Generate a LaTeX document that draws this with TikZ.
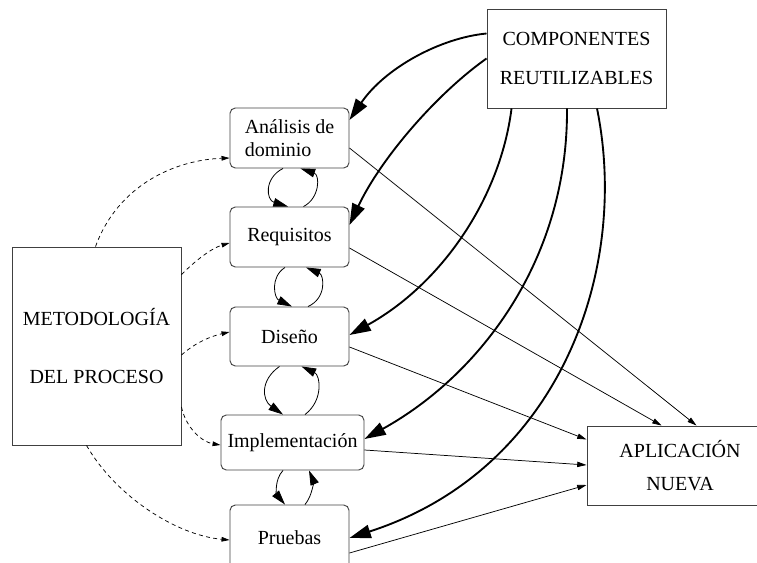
\documentclass[tikz,border=0pt]{standalone}
\usepackage{fontspec}
\setmainfont{Liberation Serif}
\usetikzlibrary{arrows.meta,calc}
\begin{document}
\begin{tikzpicture}[x=0.75pt,y=-0.75pt,
  every node/.style={font=\fontsize{15}{17.6}\selectfont},
  stage/.style={draw=black!75,line width=0.7pt,rounded corners=4pt,inner sep=0pt,
    minimum width=89.25pt,minimum height=45pt,align=center},
  plainbox/.style={draw=black!75,line width=0.7pt,inner sep=0pt,align=center},
  bigarrow/.style={line width=1.4pt,-{Triangle[length=16pt,width=10pt]}},
  thinarrow/.style={line width=0.55pt,-{Triangle[length=7pt,width=4pt]}},
  dasharrow/.style={line width=0.55pt,dash pattern=on 3pt off 2.5pt,-{Triangle[length=6pt,width=3.5pt]}},
  looparrow/.style={line width=0.6pt,-{Triangle[length=11pt,width=6.5pt]}}]
\clip (0,0) rectangle (757,563);

% process stages
\node[stage,align=left] (ana) at (289.5,138) {Análisis de\\dominio};
\node[stage] (req) at (289.5,237) {Requisitos};
\node[stage,minimum height=44.25pt] (dis) at (289.5,336.5) {Diseño};
\node[stage,minimum width=107.25pt,minimum height=41.25pt] (imp) at (292.5,442.5) {Implementación};
\node[stage,minimum height=49.5pt] (pru) at (289.5,538) {Pruebas};

% side boxes
\node[plainbox,minimum width=126.75pt,minimum height=148.5pt] (met) at (96.5,346)
  {METODOLOGÍA\\[26pt]DEL PROCESO};
\node[plainbox,minimum width=134.25pt,minimum height=74.25pt] (com) at (576.5,58.5)
  {COMPONENTES\\[11.5pt]REUTILIZABLES};
\node[plainbox,minimum width=139.5pt,minimum height=59.25pt] (apl) at (680,465.5)
  {APLICACIÓN\\[7pt]NUEVA};

% methodology guides every stage
\draw[dasharrow] ($(met.north west)+(84,0)$) .. controls (118,185) and (175,160) .. ($(ana.west)+(0,20)$);
\draw[dasharrow] ($(met.north east)+(0,28)$) .. controls (196,260) and (212,248) .. ($(req.west)+(0,6)$);
\draw[dasharrow] ($(met.east)+(0,9)$) .. controls (196,342) and (212,336) .. ($(dis.west)+(0,-4.5)$);
\draw[dasharrow] ($(met.east)+(0,61)$) .. controls (186,428) and (202,442) .. ($(imp.west)+(0,2.5)$);
\draw[dasharrow] ($(met.south west)+(75,0)$) .. controls (115,495) and (175,535) .. ($(pru.west)+(0,2)$);

% iteration between consecutive stages
\draw[looparrow] ($(ana.south)+(-6.5,0)$) .. controls (264,178) and (266,200) .. ($(req.north)+(-1.5,0)$);
\draw[looparrow] ($(req.north)+(14,0)$) .. controls (320,198) and (320,175) .. ($(ana.south)+(11,0)$);
\draw[looparrow] ($(req.south)+(-4.5,0)$) .. controls (270,277) and (274,298) .. ($(dis.north)+(2.5,0)$);
\draw[looparrow] ($(dis.north)+(18.5,0)$) .. controls (327,298) and (324,275) .. ($(req.south)+(16.5,0)$);
\draw[looparrow] ($(dis.south)+(-10,0)$) .. controls (260,380) and (262,400) .. ($(imp.north)+(-9.5,0)$);
\draw[looparrow] ($(imp.north)+(12.5,0)$) .. controls (324,400) and (320,375) .. ($(dis.south)+(12,0)$);
\draw[looparrow] ($(imp.south)+(-9.5,0)$) .. controls (274,480) and (277,495) .. ($(pru.north)+(-4.5,0)$);
\draw[looparrow] ($(pru.north)+(15.5,0)$) .. controls (313,495) and (313,480) .. ($(imp.south)+(16.5,0)$);

% reusable components feed every stage
\draw[bigarrow] ($(com.west)+(0,-25)$) .. controls (440,38) and (385,68) .. ($(ana.east)+(0,-18)$);
\draw[bigarrow] (com.west) .. controls (435,95) and (380,160) .. ($(req.east)+(0,-12)$);
\draw[bigarrow] ($(com.south west)+(25,0)$) .. controls (500,200) and (440,285) .. ($(dis.east)+(0,-1.5)$);
\draw[bigarrow] ($(com.south)+(-9.5,0)$) .. controls (568,260) and (480,375) .. ($(imp.east)+(0,-3.5)$);
\draw[bigarrow] ($(com.south)+(20.5,0)$) .. controls (630,270) and (560,470) .. ($(pru.east)+(0,0)$);

% every stage contributes to the new application
\draw[thinarrow] ($(ana.east)+(0,10)$) -- ($(apl.north west)+(110,0)$);
\draw[thinarrow] ($(req.east)+(0,11)$) -- ($(apl.north west)+(75,0)$);
\draw[thinarrow] ($(dis.east)+(0,10.5)$) -- ($(apl.north west)+(0,14)$);
\draw[thinarrow] ($(imp.east)+(0,7.5)$) -- ($(apl.west)+(0,-0.5)$);
\draw[thinarrow] ($(pru.east)+(0,15)$) -- ($(apl.west)+(0,19.5)$);
\end{tikzpicture}
\end{document}
